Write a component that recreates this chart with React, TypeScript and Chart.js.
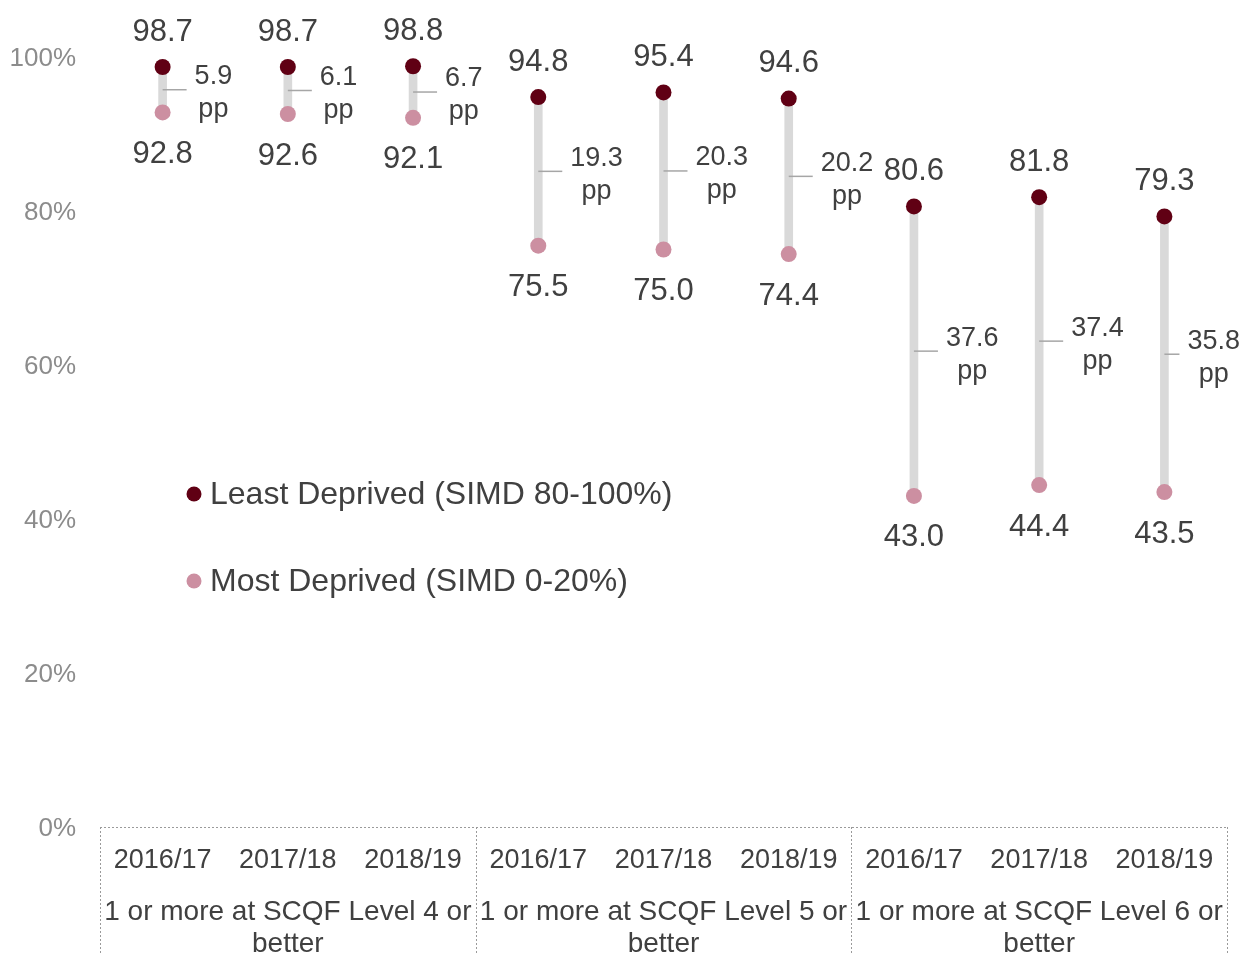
import React, { useEffect, useRef } from "react";
import { Chart, registerables } from "chart.js";

Chart.register(...registerables);

const years = ["2016/17", "2017/18", "2018/19", "2016/17", "2017/18", "2018/19", "2016/17", "2017/18", "2018/19"];
const groups = [
  "1 or more at SCQF Level 4 or better",
  "1 or more at SCQF Level 5 or better",
  "1 or more at SCQF Level 6 or better",
];
const leastDeprived = [98.7, 98.7, 98.8, 94.8, 95.4, 94.6, 80.6, 81.8, 79.3];
const mostDeprived = [92.8, 92.6, 92.1, 75.5, 75.0, 74.4, 43.0, 44.4, 43.5];
const gapPP = [5.9, 6.1, 6.7, 19.3, 20.3, 20.2, 37.6, 37.4, 35.8];
const seriesNames = ["Least Deprived (SIMD 80-100%)", "Most Deprived (SIMD 0-20%)"];

const FONT = "'Liberation Sans', Arial, sans-serif";
const DARK = "#600014";
const PINK = "#cc8fa1";
const TEXT = "#404040";

function wrap(ctx: CanvasRenderingContext2D, text: string, maxW: number): string[] {
  const words = text.split(" ");
  const lines: string[] = [];
  let cur = "";
  for (const w of words) {
    const t = cur ? cur + " " + w : w;
    if (ctx.measureText(t).width > maxW && cur) {
      lines.push(cur);
      cur = w;
    } else cur = t;
  }
  if (cur) lines.push(cur);
  return lines;
}

const annotPlugin = {
  id: "annot",
  afterDatasetsDraw(chart: any) {
    const ctx: CanvasRenderingContext2D = chart.ctx;
    const xs = chart.scales.x;
    const ys = chart.scales.y;
    const area = chart.chartArea;
    ctx.save();
    ctx.textAlign = "center";
    ctx.textBaseline = "middle";
    // gap ticks + labels
    ctx.font = `27px ${FONT}`;
    for (let i = 0; i < years.length; i++) {
      const px = xs.getPixelForValue(i);
      const my = ys.getPixelForValue((leastDeprived[i] + mostDeprived[i]) / 2);
      const l1 = gapPP[i].toFixed(1);
      const l2 = "pp";
      const w = Math.max(ctx.measureText(l1).width, ctx.measureText(l2).width);
      let left = px + 32;
      if (left + w > chart.width - 3) left = chart.width - 3 - w;
      ctx.strokeStyle = "#a6a6a6";
      ctx.lineWidth = 1.5;
      ctx.beginPath();
      ctx.moveTo(px, my);
      ctx.lineTo(left - 8, my);
      ctx.stroke();
      ctx.fillStyle = TEXT;
      const cx = left + w / 2;
      ctx.fillText(l1, cx, my - 13);
      ctx.fillText(l2, cx, my + 20);
    }
    // value labels
    ctx.fillStyle = TEXT;
    ctx.font = `31px ${FONT}`;
    for (let i = 0; i < years.length; i++) {
      const px = xs.getPixelForValue(i);
      ctx.fillText(leastDeprived[i].toFixed(1), px, ys.getPixelForValue(leastDeprived[i]) - 35);
      ctx.fillText(mostDeprived[i].toFixed(1), px, ys.getPixelForValue(mostDeprived[i]) + 42);
    }
    // category labels
    ctx.font = `27px ${FONT}`;
    for (let i = 0; i < years.length; i++) {
      ctx.fillText(years[i], xs.getPixelForValue(i), area.bottom + 34);
    }
    // group labels + dotted box
    const step = xs.getPixelForValue(1) - xs.getPixelForValue(0);
    const bounds: number[] = [];
    for (let g = 0; g <= groups.length; g++) {
      bounds.push(xs.getPixelForValue(g * 3) - step / 2);
    }
    ctx.font = `28px ${FONT}`;
    for (let g = 0; g < groups.length; g++) {
      const cx = (bounds[g] + bounds[g + 1]) / 2;
      const lines = wrap(ctx, groups[g], bounds[g + 1] - bounds[g] - 4);
      lines.forEach((ln, k) => ctx.fillText(ln, cx, area.bottom + 85 + k * 32));
    }
    ctx.strokeStyle = "#9a9a9a";
    ctx.lineWidth = 1;
    ctx.setLineDash([2, 2]);
    ctx.beginPath();
    ctx.moveTo(bounds[0], area.bottom + 0.5);
    ctx.lineTo(bounds[bounds.length - 1], area.bottom + 0.5);
    for (const b of bounds) {
      const bx = Math.round(b) + 0.5;
      ctx.moveTo(bx, area.bottom);
      ctx.lineTo(bx, chart.height);
    }
    ctx.stroke();
    ctx.setLineDash([]);
    // legend
    const lx = area.left + 94;
    const rows = [area.top + 436, area.top + 523];
    const cols = [DARK, PINK];
    ctx.font = `32px ${FONT}`;
    ctx.textAlign = "left";
    for (let k = 0; k < 2; k++) {
      ctx.fillStyle = cols[k];
      ctx.beginPath();
      ctx.arc(lx, rows[k] + 1, 7.5, 0, Math.PI * 2);
      ctx.fill();
      ctx.fillStyle = TEXT;
      ctx.fillText(seriesNames[k], lx + 16, rows[k] + 2);
    }
    ctx.restore();
  },
};

export default function App() {
  const ref = useRef<HTMLCanvasElement>(null);
  useEffect(() => {
    document.body.style.margin = "0";
    const chart = new Chart(ref.current!, {
      type: "bar",
      data: {
        labels: years,
        datasets: [
          {
            type: "line",
            label: seriesNames[0],
            data: leastDeprived,
            showLine: false,
            pointRadius: 8,
            pointHoverRadius: 8,
            pointBorderWidth: 0,
            pointBackgroundColor: DARK,
            backgroundColor: DARK,
            order: 1,
          } as any,
          {
            type: "line",
            label: seriesNames[1],
            data: mostDeprived,
            showLine: false,
            pointRadius: 8,
            pointHoverRadius: 8,
            pointBorderWidth: 0,
            pointBackgroundColor: PINK,
            backgroundColor: PINK,
            order: 2,
          } as any,
          {
            type: "bar",
            label: "range",
            data: mostDeprived.map((m, i) => [m, leastDeprived[i]]),
            backgroundColor: "#d9d9d9",
            barThickness: 8,
            order: 3,
          } as any,
        ],
      },
      options: {
        responsive: false,
        animation: false,
        devicePixelRatio: 1,
        layout: { padding: { top: 57, right: 16, bottom: 127, left: 0 } },
        plugins: { legend: { display: false }, tooltip: { enabled: false } },
        scales: {
          x: { display: false, offset: true },
          y: {
            min: 0,
            max: 100,
            afterFit: (s: any) => {
              s.width = 100;
            },
            grid: { display: false, drawTicks: false },
            border: { display: false },
            ticks: {
              stepSize: 20,
              padding: 24,
              labelOffset: 2,
              color: "#8c8c8c",
              font: { size: 26, family: FONT },
              callback: (v: any) => v + "%",
            },
          },
        },
      },
      plugins: [annotPlugin],
    });
    return () => chart.destroy();
  }, []);
  return <canvas ref={ref} width={1243} height={954} style={{ display: "block" }} />;
}
